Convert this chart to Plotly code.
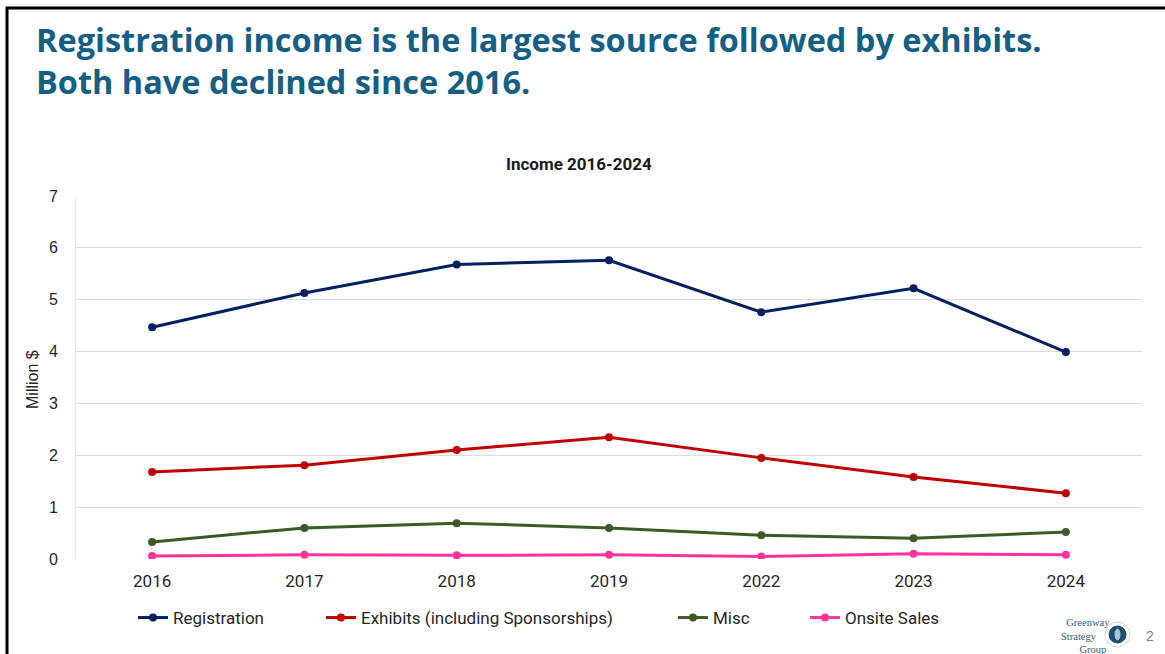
import plotly.graph_objects as go

# Income by source, million $
years = ["2016", "2017", "2018", "2019", "2022", "2023", "2024"]
registration = [4.47, 5.13, 5.68, 5.76, 4.76, 5.22, 3.99]
exhibits = [1.68, 1.81, 2.10, 2.35, 1.95, 1.58, 1.27]
misc = [0.33, 0.60, 0.69, 0.60, 0.46, 0.40, 0.52]
onsite_sales = [0.06, 0.08, 0.07, 0.08, 0.05, 0.10, 0.08]

series_names = ["Registration", "Exhibits (including Sponsorships)", "Misc", "Onsite Sales"]
series_values = [registration, exhibits, misc, onsite_sales]
series_colors = ["#002060", "#C00000", "#3B5B24", "#FF3399"]

W, H = 1165, 654
L, R, T, B = 76, 23, 196, 95
PW, PH = W - L - R, H - T - B


def px(x):
    return (x - L) / PW


def py(y):
    return (H - B - y) / PH


fig = go.Figure()
legend_ids = ["legend", "legend2", "legend3", "legend4"]
legend_x = [133, 321, 673, 805]
for name, vals, col, lid in zip(series_names, series_values, series_colors, legend_ids):
    fig.add_trace(go.Scatter(
        x=years, y=vals, name=name, mode="lines+markers",
        line=dict(color=col, width=3),
        marker=dict(color=col, size=8),
        legend=lid,
    ))

legend_font = dict(family="Roboto, Liberation Sans, sans-serif", size=17, color="#262626")
legend_layouts = {}
for lid, lx in zip(legend_ids, legend_x):
    legend_layouts[lid] = dict(
        x=px(lx), y=py(618), xanchor="left", yanchor="middle",
        orientation="h", font=legend_font, bgcolor="rgba(0,0,0,0)",
        itemwidth=30, tracegroupgap=0,
    )

heading_font = dict(family="Open Sans, Lato, sans-serif", size=32.5, color="#155E84", weight="bold")
logo_font = dict(family="Liberation Serif, serif", size=10.5, color="#2F5E7E")
nb = "\u00a0"

fig.update_layout(
    width=W, height=H,
    margin=dict(l=L, r=R, t=T, b=B),
    paper_bgcolor="white", plot_bgcolor="white",
    showlegend=True,
    **legend_layouts,
    xaxis=dict(
        type="category", showgrid=False, zeroline=False, showline=False,
        tickfont=dict(family="Roboto, Liberation Sans, sans-serif", size=17, color="#262626"),
        ticklabelstandoff=10, range=[-0.5, 6.5],
    ),
    yaxis=dict(
        range=[0, 7], dtick=1, showgrid=True, gridcolor="#DCDCDC", gridwidth=1,
        zeroline=False, showline=True, linecolor="#EBEBEB", linewidth=1,
        tickfont=dict(family="Liberation Sans, Arial, sans-serif", size=16, color="#262626"),
        ticklabelstandoff=14,
    ),
    annotations=[
        dict(
            text="Registration income is the largest source followed by exhibits.<br>"
                 "Both have declined since 2016.",
            x=px(34), y=py(61), xref="paper", yref="paper", xanchor="left", yanchor="middle",
            align="left", showarrow=False, font=heading_font,
        ),
        dict(
            text="<b>Income 2016-2024</b>",
            x=px(579), y=py(164), xref="paper", yref="paper", xanchor="center", yanchor="middle",
            showarrow=False,
            font=dict(family="Roboto, Liberation Sans, sans-serif", size=17, color="#1a1a1a"),
        ),
        dict(
            text="Million $", textangle=-90,
            x=px(32), y=py(380), xref="paper", yref="paper", xanchor="center", yanchor="middle",
            showarrow=False,
            font=dict(family="Liberation Sans, Arial, sans-serif", size=16, color="#262626"),
        ),
        dict(
            text=nb * 2 + "Greenway<br>Strategy<br>" + nb * 7 + "Group",
            x=px(1059), y=py(636), xref="paper", yref="paper",
            xanchor="left", yanchor="middle", align="left", showarrow=False, font=logo_font,
        ),
        dict(
            text="2",
            x=px(1150), y=py(636), xref="paper", yref="paper", xanchor="center", yanchor="middle",
            showarrow=False,
            font=dict(family="Liberation Sans, sans-serif", size=14, color="#7F7F7F"),
        ),
    ],
    shapes=[
        # slide frame
        dict(type="rect", xref="paper", yref="paper",
             x0=px(7), x1=px(1175), y0=py(665), y1=py(8),
             line=dict(color="black", width=3), fillcolor="rgba(0,0,0,0)", layer="above"),
        # logo mark
        dict(type="circle", xref="paper", yref="paper",
             x0=px(1105), x1=px(1130), y0=py(647), y1=py(622),
             line=dict(color="#D0D0D0", width=1), fillcolor="white"),
        dict(type="circle", xref="paper", yref="paper",
             x0=px(1109), x1=px(1126), y0=py(643), y1=py(626),
             line=dict(color="#1F4E6E", width=1), fillcolor="#1F4E6E"),
        dict(type="circle", xref="paper", yref="paper",
             x0=px(1115), x1=px(1120), y0=py(640), y1=py(629),
             line=dict(color="#A9C4D4", width=1), fillcolor="#A9C4D4"),
    ],
)

fig.write_html("out.html")
